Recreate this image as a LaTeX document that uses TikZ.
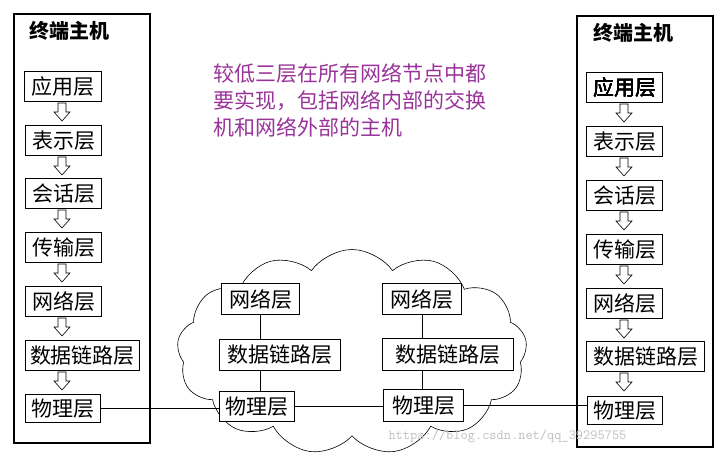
\documentclass[tikz,border=0pt]{standalone}
\usepackage{fontspec}
\setmainfont{Noto Sans CJK SC}
\usetikzlibrary{shapes.symbols,positioning}
\definecolor{notepurple}{RGB}{153,51,153}
\tikzset{
  layer/.style={draw,line width=1pt,inner sep=1pt,minimum height=30pt,font=\fontsize{21}{21}\selectfont,anchor=north west},
  host/.style={draw,line width=2.5pt},
  link/.style={line width=.6pt},
}
\newcommand\downarr[2]{% x, y top / y bottom
  \draw[line width=.6pt,fill=white] (#1-4,#2) -- (#1+4,#2) -- (#1+4,#2+9) -- (#1+8,#2+9)
    -- (#1,#2+18) -- (#1-8,#2+9) -- (#1-4,#2+9) -- cycle;}
\begin{document}
\begin{tikzpicture}[x=1pt,y=-1pt]
\useasboundingbox (0,0) rectangle (723,455);
% cloud
\node[cloud,draw,cloud puffs=13,cloud puff arc=110,aspect=1.8,minimum width=350pt,minimum height=205pt,line width=.6pt] (net) at (352,352) {};
% hosts
\draw[host] (14,14) rectangle (150,443);
\draw[host] (577,16) rectangle (713,447);
\node[font=\fontsize{20}{20}\selectfont\bfseries,anchor=west] (ha) at (26,31) {终端主机};
\node[font=\fontsize{20}{20}\selectfont\bfseries,anchor=west] (hb) at (590,33) {终端主机};
% left host
\node[layer,minimum width=77pt] (la) at (24,71) {应用层};
\node[layer,minimum width=76pt] (lb) at (25,125) {表示层};
\node[layer,minimum width=76pt] (lc) at (25,178) {会话层};
\node[layer,minimum width=76pt] (ld) at (25,232) {传输层};
\node[layer,minimum width=76pt] (le) at (25,286) {网络层};
\node[layer,minimum width=114pt] (lf) at (25,340) {数据链路层};
\node[layer,minimum width=75pt,minimum height=28pt] (lg) at (25,394) {物理层};
\foreach \y in {101,155,208,262,316,370} \downarr{62}{\y+2}
% right host
\node[layer,minimum width=76pt] (ra) at (586,72) {应用层};
\node[layer,minimum width=76pt] (rb) at (586,126) {表示层};
\node[layer,minimum width=76pt] (rc) at (586,180) {会话层};
\node[layer,minimum width=76pt] (rd) at (586,234) {传输层};
\node[layer,minimum width=76pt] (re) at (586,288) {网络层};
\node[layer,minimum width=118pt] (rf) at (586,341) {数据链路层};
\node[layer,minimum width=75pt,minimum height=28pt] (rg) at (587,396) {物理层};
\foreach \y in {102,156,210,264,318,371} \downarr{624}{\y+2}
% switches in the cloud
\node[layer,minimum width=78pt,minimum height=31pt,fill=white] (sa1) at (221,283) {网络层};
\node[layer,minimum width=121pt,minimum height=31pt,fill=white] (sa2) at (219,339) {数据链路层};
\node[layer,minimum width=75pt,fill=white] (sa3) at (219,391) {物理层};
\node[layer,minimum width=79pt,minimum height=31pt,fill=white] (sb1) at (382,283) {网络层};
\node[layer,minimum width=131pt,minimum height=32pt,fill=white] (sb2) at (382,338) {数据链路层};
\node[layer,minimum width=80pt,minimum height=32pt,fill=white] (sb3) at (383,389) {物理层};
\draw[link] (sa1) -- (sa1|-sa2.north) (sa2.south-|sa1) -- (sa1|-sa3.north);
\draw[link] (sb1) -- (sb1|-sb2.north) (sb2.south-|sb1) -- (sb1|-sb3.north);
\draw[link] (lg.east) -- (sa3.west|-lg.east);
\draw[link] (sa3.east) -- (sb3.west|-sa3.east);
\draw[link] (sb3.east) -- (rg.west|-sb3.east);
% note
\node[text=notepurple,font=\fontsize{21}{27}\selectfont,align=left,anchor=north west] (note) at (210,60)
  {较低三层在所有网络节点中都\\要实现，包括网络内部的交换\\机和网络外部的主机};
\node[text=black!25,font=\ttfamily\fontsize{14}{14}\selectfont,anchor=west] (wm) at (385,436) {https://blog.csdn.net/qq\_39295755};
\end{tikzpicture}
\end{document}
